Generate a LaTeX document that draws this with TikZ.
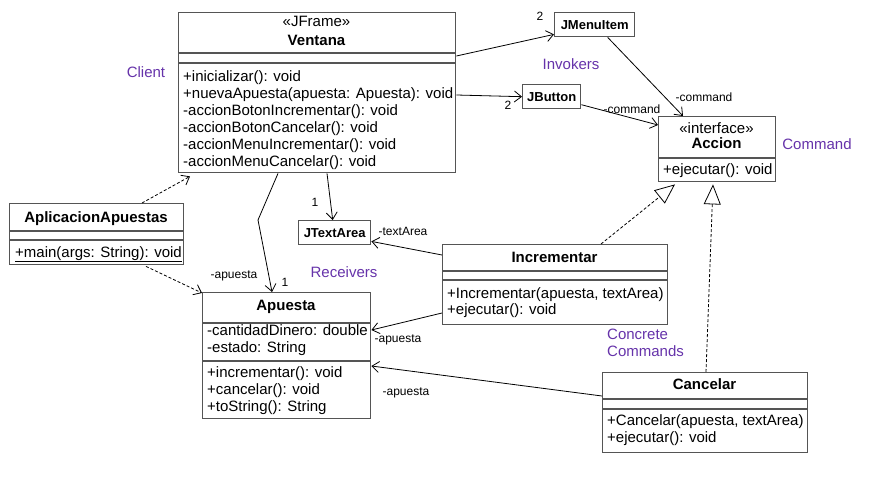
\documentclass[tikz,border=0pt]{standalone}
\usepackage{fontspec}
\setmainfont{Liberation Sans}
\usetikzlibrary{arrows.meta,calc}
\definecolor{boxgray}{RGB}{85,85,85}
\definecolor{grouppurple}{RGB}{102,51,170}
\begin{document}
\begin{tikzpicture}[x=1pt,y=-1pt,
  umlbox/.style={draw=boxgray,line width=1.4pt,fill=white,rectangle,inner sep=0pt,anchor=north west},
  divider/.style={draw=boxgray,line width=1.4pt},
  cname/.style={font=\fontsize{15}{17}\selectfont\bfseries,inner sep=0pt,anchor=base},
  stereo/.style={font=\fontsize{15}{17}\selectfont,inner sep=0pt,anchor=base},
  member/.style={font=\fontsize{15}{17}\selectfont,inner sep=0pt,anchor=base west,align=left},
  members/.style={font=\fontsize{15}{17}\selectfont,inner sep=0pt,anchor=north west,align=left},
  sname/.style={font=\fontsize{13}{15}\selectfont\bfseries,inner sep=0pt},
  elabel/.style={font=\fontsize{12}{14}\selectfont,inner sep=0pt},
  glabel/.style={font=\fontsize{15}{17}\selectfont,text=grouppurple,inner sep=0pt,align=left},
  assoc/.style={draw=black,line width=0.8pt,-{Straight Barb[length=7pt,width=11pt]}},
  dep/.style={draw=black,line width=0.8pt,dash pattern=on 3pt off 2pt,-{Straight Barb[length=7pt,width=11pt]}},
  real/.style={draw=black,line width=0.8pt,dash pattern=on 3pt off 2pt,-{Triangle[open,length=20pt,width=17pt,fill=white]}}
]
\useasboundingbox (0,0) rectangle (896,492);
\fill[white] (0,0) rectangle (896,492);

% Ventana
\node[umlbox,minimum width=277pt,minimum height=160pt] (ventana) at (178,12) {};
\draw[divider] ($(ventana.north west)+(0,41)$) -- ($(ventana.north east)+(0,41)$);
\draw[divider] ($(ventana.north west)+(0,51)$) -- ($(ventana.north east)+(0,51)$);
\node[stereo] (ventanaster) at (316.5,27) {«JFrame»};
\node[cname] (ventananame) at (316.5,45.5) {Ventana};
\node[members] (ventanaops) at (183,69.1) {\strut+inicializar(): void\\+nuevaApuesta(apuesta: Apuesta): void\\-accionBotonIncrementar(): void\\-accionBotonCancelar(): void\\-accionMenuIncrementar(): void\\-accionMenuCancelar(): void};

% JMenuItem
\node[umlbox,minimum width=80pt,minimum height=24pt] (jmenu) at (554,12) {};
\node[sname] (jmenuname) at (jmenu.center) {JMenuItem};
% JButton
\node[umlbox,minimum width=58pt,minimum height=24pt] (jbutton) at (522,84) {};
\node[sname] (jbuttonname) at (jbutton.center) {JButton};
% JTextArea
\node[umlbox,minimum width=72pt,minimum height=24pt] (jtext) at (298,220) {};
\node[sname] (jtextname) at (jtext.center) {JTextArea};

% Accion
\node[umlbox,minimum width=117pt,minimum height=65pt] (accion) at (658,116) {};
\draw[divider] ($(accion.north west)+(0,42)$) -- ($(accion.north east)+(0,42)$);
\node[stereo] (accionster) at (716.5,133) {«interface»};
\node[cname] (accionname) at (716.5,148.5) {Accion};
\node[member] (accionops) at (663,174) {+ejecutar(): void};

% AplicacionApuestas
\node[umlbox,minimum width=174pt,minimum height=61pt] (aplic) at (9,203) {};
\draw[divider] ($(aplic.north west)+(0,28)$) -- ($(aplic.north east)+(0,28)$);
\draw[divider] ($(aplic.north west)+(0,37)$) -- ($(aplic.north east)+(0,37)$);
\node[cname] (aplicname) at (96,222.5) {AplicacionApuestas};
\node[member] (aplicops) at (15,257) {\underline{+main(args: String): void}};

% Apuesta
\node[umlbox,minimum width=168pt,minimum height=126pt] (apuesta) at (202,292) {};
\draw[divider] ($(apuesta.north west)+(0,31)$) -- ($(apuesta.north east)+(0,31)$);
\draw[divider] ($(apuesta.north west)+(0,69)$) -- ($(apuesta.north east)+(0,69)$);
\node[cname] (apuestaname) at (286,310.5) {Apuesta};
\node[members] (apuestaattr) at (207,323.1) {\strut-cantidadDinero: double\\-estado: String};
\node[members] (apuestaops) at (207,365.1) {\strut+incrementar(): void\\+cancelar(): void\\+toString(): String};

% Incrementar
\node[umlbox,minimum width=225pt,minimum height=80pt] (incr) at (442,244) {};
\draw[divider] ($(incr.north west)+(0,27)$) -- ($(incr.north east)+(0,27)$);
\draw[divider] ($(incr.north west)+(0,36)$) -- ($(incr.north east)+(0,36)$);
\node[cname] (incrname) at (554.5,262.5) {Incrementar};
\node[members,font=\fontsize{15}{16}\selectfont] (incrops) at (447,286.6) {\strut+Incrementar(apuesta, textArea)\\+ejecutar(): void};

% Cancelar
\node[umlbox,minimum width=205pt,minimum height=80pt] (canc) at (602,372) {};
\draw[divider] ($(canc.north west)+(0,27)$) -- ($(canc.north east)+(0,27)$);
\draw[divider] ($(canc.north west)+(0,37)$) -- ($(canc.north east)+(0,37)$);
\node[cname] (cancname) at (704.5,389.5) {Cancelar};
\node[members] (cancops) at (607,413.1) {\strut+Cancelar(apuesta, textArea)\\+ejecutar(): void};

% group labels
\node[glabel] (lclient) at (146,72) {Client};
\node[glabel] (linvokers) at (571,64) {Invokers};
\node[glabel] (lcommand) at (817,144) {Command};
\node[glabel] (lreceivers) at (344,272) {Receivers};
\node[glabel,anchor=north west] (lconcrete) at (607,329) {Concrete\\Commands};

% connectors
\draw[assoc] ($(ventana.north east)+(0,44)$) -- ($(jmenu.south west)+(0,-3)$);
\node[elabel] (m1) at (540,16) {2};
\draw[assoc] ($(ventana.north east)+(0,83)$) -- (jbutton.west);
\node[elabel] (m2) at (508,105) {2};
\draw[assoc] ($(jmenu.south)+(13,0)$) -- ($(accion.north west)+(25,0)$);
\node[elabel] (c1) at (704,97) {-command};
\draw[assoc] ($(jbutton.east)+(0,8)$) -- ($(accion.north west)+(0,9)$);
\node[elabel] (c2) at (632,109) {-command};
\draw[assoc] ($(ventana.south west)+(149,0)$) -- ($(jtext.north)+(-2,0)$);
\node[elabel] (m3) at (315,202) {1};
\coordinate (bend) at (258,220);
\draw[assoc] ($(ventana.south west)+(100,0)$) -- (bend) -- ($(apuesta.north west)+(70,0)$);
\node[elabel] (a1) at (234,276) {-apuesta};
\node[elabel] (m4) at (285,282) {1};
\draw[dep] ($(aplic.north west)+(133,0)$) -- ($(ventana.south west)+(12,3)$);
\draw[dep] ($(aplic.south west)+(137,1)$) -- ($(apuesta.north west)+(0,1)$);
\draw[assoc] ($(incr.north west)+(0,11)$) -- ($(jtext.south east)+(0,-4)$);
\node[elabel] (t1) at (403,231) {-textArea};
\draw[assoc] ($(incr.north west)+(0,69)$) -- ($(apuesta.north east)+(0,38)$);
\node[elabel] (a2) at (398,340) {-apuesta};
\draw[assoc] ($(canc.north west)+(0,24)$) -- ($(apuesta.north east)+(0,74)$);
\node[elabel] (a3) at (406,393) {-apuesta};
\draw[real] ($(incr.north west)+(159,0)$) -- ($(accion.south west)+(17,2)$);
\draw[real] ($(canc.north west)+(104,0)$) -- ($(accion.south west)+(55,2)$);
\end{tikzpicture}
\end{document}
